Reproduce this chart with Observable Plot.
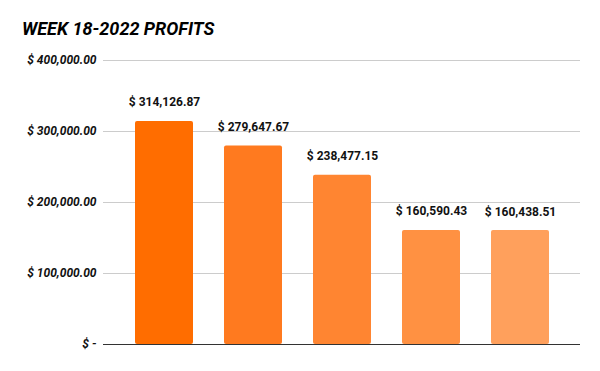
<!DOCTYPE html>
<html>
<head>
<meta charset="utf-8">
<script src="https://cdn.jsdelivr.net/npm/d3@7"></script>
<script src="https://cdn.jsdelivr.net/npm/@observablehq/plot@0.6"></script>
<style>
  html, body { margin: 0; padding: 0; background: #fff; }
  #title { height: 45px; box-sizing: border-box; padding: 20px 0 0 22px; font: italic 700 18px/18px Roboto, sans-serif; color: #000; }
  #chart svg { display: block; }
</style>
</head>
<body>
<div id="title">WEEK 18-2022 PROFITS</div>
<div id="chart"></div>
<script>
const categories = ["1", "2", "3", "4", "5"];
const profits = [314126.87, 279647.67, 238477.15, 160590.43, 160438.51];
const barColors = ["#ff6d00", "#ff7a1f", "#ff8531", "#ff9142", "#ffa05c"];
const yTicks = [0, 100000, 200000, 300000, 400000];

const data = categories.map((c, i) => ({category: c, value: profits[i], color: barColors[i]}));
const money = d3.format(",.2f");

const chart = Plot.plot({
  width: 600,
  height: 326,
  marginTop: 15,
  marginBottom: 27,
  marginLeft: 103,
  marginRight: 20,
  style: {fontFamily: "Roboto, sans-serif", background: "#fff"},
  x: {domain: categories, padding: 0.35, axis: null},
  y: {domain: [0, 400000], ticks: yTicks, label: null},
  marks: [
    Plot.gridY(yTicks.filter(t => t > 0), {stroke: "#cccccc", strokeOpacity: 1, strokeWidth: 1}),
    Plot.axisY(yTicks, {
      tickSize: 0, tickPadding: 7, label: null,
      tickFormat: d => d === 0 ? "$ -" : "$ " + money(d),
      fontSize: 12, fontWeight: 700, fontStyle: "italic", fill: "#111"
    }),
    Plot.barY(data, {x: "category", y: "value", fill: "color", rx: 2}),
    Plot.ruleY([0], {stroke: "#333333", strokeWidth: 1}),
    Plot.text(data, {
      x: "category", y: "value", text: d => "$ " + money(d.value),
      lineAnchor: "bottom", dy: -15, fontSize: 12, fontWeight: 700, fill: "#111"
    })
  ]
});
document.getElementById("chart").appendChild(chart);
</script>
</body>
</html>
